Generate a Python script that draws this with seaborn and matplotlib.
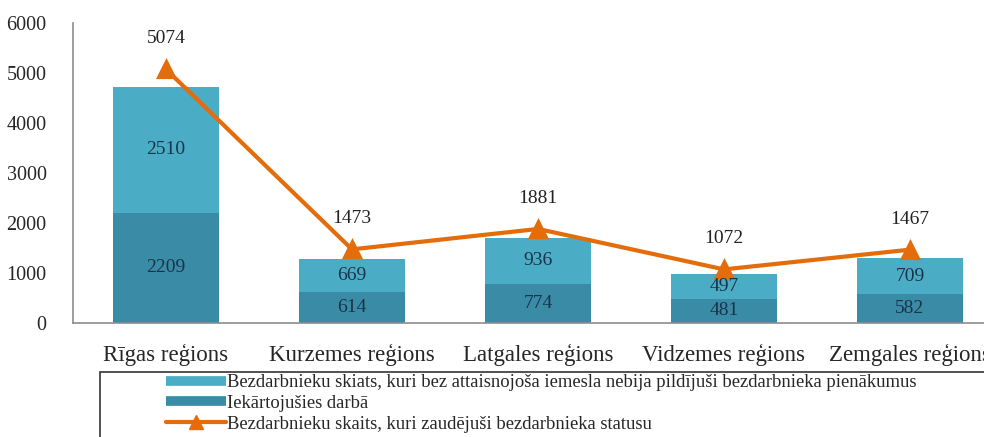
import matplotlib
matplotlib.use('Agg')
import matplotlib.pyplot as plt
import seaborn as sns
import pandas as pd
from matplotlib.lines import Line2D
from matplotlib.patches import Rectangle

# ── Data ─────────────────────────────────────────────────────
regions = ['Rīgas reģions', 'Kurzemes reģions', 'Latgales reģions',
           'Vidzemes reģions', 'Zemgales reģions']
employed = [2209, 614, 774, 481, 582]          # Iekārtojušies darbā
no_duty = [2510, 669, 936, 497, 709]           # nebija pildījuši pienākumus
lost_status = [5074, 1473, 1881, 1072, 1467]   # zaudējuši statusu

label_light = ('Bezdarbnieku skiats, kuri bez attaisnojoša iemesla nebija '
               'pildījuši bezdarbnieka pienākumus')
label_dark = 'Iekārtojušies darbā'
label_line = 'Bezdarbnieku skaits, kuri zaudējuši bezdarbnieka statusu'

c_light = '#4BACC6'
c_dark = '#3A8BA6'
c_line = '#E46C0A'
c_text = '#1B334A'

df = pd.DataFrame({'region': regions, 'employed': employed,
                   'no_duty': no_duty, 'lost': lost_status})
df['stack_top'] = df['employed'] + df['no_duty']

# ── Style ────────────────────────────────────────────────────
sns.set_style('white')
plt.rcParams['font.family'] = ['Liberation Serif', 'DejaVu Serif']

fig = plt.figure(figsize=(9.84, 4.37), dpi=100)
ax = fig.add_axes([73 / 984, 1 - 323 / 437, 930 / 984, 300 / 437])

sns.barplot(data=df, x='region', y='stack_top', color=c_light,
            width=0.57, saturation=1, linewidth=0, ax=ax)
sns.barplot(data=df, x='region', y='employed', color=c_dark,
            width=0.57, saturation=1, linewidth=0, ax=ax)
sns.pointplot(data=df, x='region', y='lost', color=c_line, markers='^',
              markersize=12, linewidth=3, ax=ax)

# segment labels
for i, row in df.iterrows():
    ax.text(i, row['employed'] / 2, f"{row['employed']}", ha='center',
            va='center', fontsize=14, color=c_text)
    ax.text(i, row['employed'] + row['no_duty'] / 2, f"{row['no_duty']}",
            ha='center', va='center', fontsize=14, color=c_text)
    ax.annotate(f"{row['lost']}", (i, row['lost']), xytext=(0, 22),
                textcoords='offset points', ha='center', va='center',
                fontsize=14, color='#222222')

ax.set_ylim(0, 6000)
ax.set_yticks(range(0, 6001, 1000))
ax.set_xlim(-0.5, 4.5)
ax.set_xlabel('')
ax.set_ylabel('')
ax.tick_params(axis='y', length=0, labelsize=14.5, pad=19)
ax.tick_params(axis='x', length=0, labelsize=16.5, pad=15)
for s in ['top', 'right']:
    ax.spines[s].set_visible(False)
for s in ['left', 'bottom']:
    ax.spines[s].set_color('#8C8C8C')
    ax.spines[s].set_linewidth(1.2)

# legend box
fig.patches.append(Rectangle((100 / 984, -0.05), 1.0, 0.05 + 65 / 437,
                             transform=fig.transFigure, fill=False,
                             edgecolor='#333333', linewidth=1.2))
handles = [
    Line2D([], [], color=c_light, lw=7, solid_capstyle='butt'),
    Line2D([], [], color=c_dark, lw=7, solid_capstyle='butt'),
    Line2D([], [], color=c_line, lw=3, marker='^', markersize=10),
]
fig.legend(handles, [label_light, label_dark, label_line],
           loc='upper left', bbox_to_anchor=(166 / 984, 1 - 374 / 437),
           frameon=False, fontsize=13.4, handlelength=3.2, handletextpad=0.1,
           labelspacing=0.2, borderpad=0, borderaxespad=0)

fig.savefig('out.png', dpi=100)
